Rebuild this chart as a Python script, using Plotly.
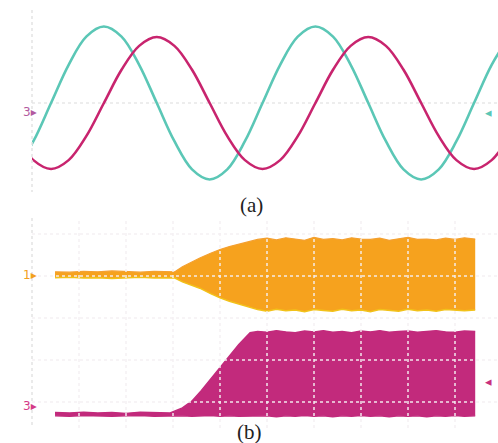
import plotly.graph_objects as go

# ---------------- panel (a): two sinusoids (time in divisions, amplitude in divisions)
t_a = [-0.345, 0.03, 0.405, 0.78, 1.155, 1.53, 1.905, 2.28, 2.655, 3.03, 3.405, 3.78,
       4.155, 4.53, 4.905, 5.28, 5.655, 6.03, 6.405, 6.78, 7.155, 7.53, 7.905, 8.28,
       8.655, 9.03, 9.405, 9.78, 10.155]
cyan_a = [-1.58, -0.91, 0.0, 0.91, 1.58, 1.82, 1.58, 0.91, 0.0, -0.91, -1.58, -1.82,
          -1.58, -0.91, 0.0, 0.91, 1.58, 1.82, 1.58, 0.91, 0.0, -0.91, -1.58, -1.82,
          -1.58, -0.91, 0.0, 0.91, 1.58]
magenta_a = [-0.79, -1.36, -1.57, -1.36, -0.79, 0.0, 0.79, 1.36, 1.57, 1.36, 0.79, 0.0,
             -0.79, -1.36, -1.57, -1.36, -0.79, 0.0, 0.79, 1.36, 1.57, 1.36, 0.79, 0.0,
             -0.79, -1.36, -1.57, -1.36, -0.79]

# ---------------- panel (b): envelopes of the dense waveforms
x_orange = [0.49, 0.8, 1.1, 1.4, 1.7, 2.0, 2.3, 2.6, 2.9,
            3.04, 3.2, 3.4, 3.57, 3.8, 4.0, 4.2, 4.4, 4.64,
            4.8, 5.0, 5.2, 5.4, 5.6, 5.8, 6.0, 6.2, 6.4, 6.6, 6.8, 7.0,
            7.2, 7.4, 7.6, 7.8, 8.0, 8.2, 8.4, 8.6, 8.8, 9.0, 9.2, 9.43]
orange_top = [4.10, 4.09, 4.11, 4.10, 4.12, 4.10, 4.09, 4.11, 4.10,
              4.10, 4.22, 4.34, 4.43, 4.54, 4.63, 4.70, 4.76, 4.82,
              4.87, 4.90, 4.86, 4.91, 4.88, 4.85, 4.92, 4.87, 4.89, 4.86, 4.91, 4.88,
              4.87, 4.90, 4.85, 4.89, 4.92, 4.87, 4.88, 4.86, 4.90, 4.87, 4.91, 4.88]
orange_bot = [3.96, 3.97, 3.95, 3.96, 3.94, 3.96, 3.97, 3.95, 3.96,
              3.95, 3.86, 3.77, 3.71, 3.58, 3.48, 3.40, 3.33, 3.25,
              3.20, 3.16, 3.21, 3.17, 3.19, 3.15, 3.20, 3.18, 3.16, 3.21, 3.17, 3.19,
              3.15, 3.20, 3.18, 3.16, 3.21, 3.17, 3.19, 3.16, 3.20, 3.18, 3.17, 3.19]

x_mag = [0.49, 0.8, 1.1, 1.4, 1.7, 2.0, 2.3, 2.6, 2.94,
         3.2, 3.4, 3.6, 3.8, 4.0, 4.2, 4.4, 4.64,
         4.8, 5.0, 5.2, 5.4, 5.6, 5.8, 6.0, 6.2, 6.4, 6.6, 6.8, 7.0,
         7.2, 7.4, 7.6, 7.8, 8.0, 8.2, 8.4, 8.6, 8.8, 9.0, 9.2, 9.43]
mag_top = [0.75, 0.74, 0.76, 0.74, 0.75, 0.73, 0.76, 0.75, 0.74,
           0.86, 1.02, 1.27, 1.55, 1.83, 2.10, 2.37, 2.65,
           2.68, 2.66, 2.70, 2.67, 2.65, 2.69, 2.67, 2.70, 2.66, 2.68, 2.65, 2.69,
           2.67, 2.70, 2.66, 2.68, 2.69, 2.66, 2.68, 2.70, 2.67, 2.66, 2.69, 2.68]
mag_bot = [0.67, 0.66, 0.68, 0.67, 0.66, 0.67, 0.68, 0.66, 0.67,
           0.67, 0.66, 0.67, 0.68, 0.66, 0.67, 0.66, 0.67,
           0.66, 0.67, 0.65, 0.67, 0.66, 0.68, 0.66, 0.67, 0.65, 0.67, 0.66, 0.68,
           0.66, 0.67, 0.65, 0.67, 0.66, 0.67, 0.65, 0.67, 0.66, 0.68, 0.66, 0.67]

grid_x_b = [1, 2, 3, 4, 5, 6, 7, 8, 9]
grid_y_b = [1, 2, 3, 4, 5]

W, H = 498, 443
CYAN = "#5bc7b6"
MAG_LINE = "#c8246e"
ORANGE = "#f6a21e"
MAG_FILL = "#c22a7c"

fig = go.Figure()

# panel (a)
fig.add_trace(go.Scatter(x=t_a, y=cyan_a, mode="lines", xaxis="x", yaxis="y",
                         line=dict(color=CYAN, width=2.6, shape="spline", smoothing=1.0)))
fig.add_trace(go.Scatter(x=t_a, y=magenta_a, mode="lines", xaxis="x", yaxis="y",
                         line=dict(color=MAG_LINE, width=2.6, shape="spline", smoothing=1.0)))

# panel (b)
fig.add_trace(go.Scatter(x=x_orange, y=orange_bot, mode="lines", xaxis="x2", yaxis="y2",
                         line=dict(color="#f2c21a", width=1.5)))
fig.add_trace(go.Scatter(x=x_orange, y=orange_top, mode="lines", xaxis="x2", yaxis="y2",
                         fill="tonexty", fillcolor=ORANGE,
                         line=dict(color="#f4a030", width=1.2)))
fig.add_trace(go.Scatter(x=x_mag, y=mag_bot, mode="lines", xaxis="x2", yaxis="y2",
                         line=dict(color=MAG_FILL, width=1.4)))
fig.add_trace(go.Scatter(x=x_mag, y=mag_top, mode="lines", xaxis="x2", yaxis="y2",
                         fill="tonexty", fillcolor=MAG_FILL,
                         line=dict(color=MAG_FILL, width=1.4)))

def px_x(p):
    return p / W

def px_y(p):
    return 1 - p / H

GRID = "rgba(244,239,242,0.95)"
shapes = []
# left dotted axis lines
shapes.append(dict(type="line", xref="paper", yref="paper", x0=px_x(32), x1=px_x(32),
                   y0=px_y(10), y1=px_y(192), line=dict(color="#e4e4e4", width=1.5, dash="dot")))
shapes.append(dict(type="line", xref="paper", yref="paper", x0=px_x(32), x1=px_x(32),
                   y0=px_y(218), y1=px_y(428), line=dict(color="#e4e4e4", width=1.5, dash="dot")))
# panel (a) midline
shapes.append(dict(type="line", xref="x", yref="y", x0=0, x1=9.915, y0=0, y1=0,
                   line=dict(color="#e8e8e8", width=1.5, dash="dot"), layer="below"))
# panel (b) grid (drawn above the traces like a scope graticule)
for gx in grid_x_b:
    shapes.append(dict(type="line", xref="x2", yref="y2", x0=gx, x1=gx, y0=0.381, y1=5.381,
                       line=dict(color=GRID, width=1.5, dash="dot"), layer="above"))
for gy in grid_y_b:
    shapes.append(dict(type="line", xref="x2", yref="y2", x0=0, x1=9.915, y0=gy, y1=gy,
                       line=dict(color=GRID, width=1.5, dash="dot"), layer="above"))

annotations = [
    dict(text="3▸", x=px_x(21), y=px_y(103), xref="paper", yref="paper", showarrow=False,
         font=dict(size=12, color="#b35aa0", family="DejaVu Sans")),
    dict(text="◂", x=px_x(494), y=px_y(103), xref="paper", yref="paper", showarrow=False,
         font=dict(size=13, color=CYAN, family="DejaVu Sans")),
    dict(text="1▸", x=px_x(21), y=px_y(275), xref="paper", yref="paper", showarrow=False,
         font=dict(size=12, color="#f2a020", family="DejaVu Sans")),
    dict(text="3▸", x=px_x(21), y=px_y(415), xref="paper", yref="paper", showarrow=False,
         font=dict(size=12, color="#d43a88", family="DejaVu Sans")),
    dict(text="◂", x=px_x(494), y=px_y(391), xref="paper", yref="paper", showarrow=False,
         font=dict(size=13, color="#c8307e", family="DejaVu Sans")),
    dict(text="(a)", x=px_x(251), y=px_y(205), xref="paper", yref="paper", showarrow=False,
         font=dict(size=21, color="#222222", family="Liberation Serif")),
    dict(text="(b)", x=px_x(249), y=0, xref="paper", yref="paper", showarrow=False,
         yanchor="bottom", yshift=-3,
         font=dict(size=21, color="#222222", family="Liberation Serif")),
]

axis_common = dict(showgrid=False, zeroline=False, showticklabels=False, showline=False,
                   ticks="", fixedrange=True)

fig.update_layout(
    width=W, height=H,
    margin=dict(l=0, r=0, t=0, b=0),
    paper_bgcolor="white", plot_bgcolor="white",
    showlegend=False,
    xaxis=dict(domain=[32 / W, 1], range=[0, 9.915], anchor="y", **axis_common),
    yaxis=dict(domain=[1 - 192 / H, 1 - 10 / H], range=[-2.119, 2.214], anchor="x", **axis_common),
    xaxis2=dict(domain=[32 / W, 1], range=[0, 9.915], anchor="y2", **axis_common),
    yaxis2=dict(domain=[1 - 428 / H, 1 - 218 / H], range=[0.381, 5.381], anchor="x2", **axis_common),
    shapes=shapes,
    annotations=annotations,
)

fig.write_html("out.html", config={"displayModeBar": False},
               post_script="document.body.style.margin='0';document.body.style.overflow='hidden';")
